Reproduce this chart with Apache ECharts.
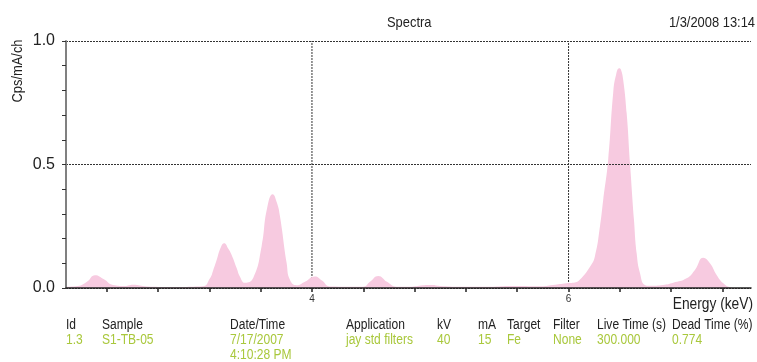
<!DOCTYPE html>
<html>
<head>
<meta charset="utf-8">
<script src="https://cdn.jsdelivr.net/npm/echarts@6/dist/echarts.min.js"></script>
<style>
  html, body { margin: 0; padding: 0; background: #fff; }
  #chart { width: 757px; height: 362px; }
</style>
</head>
<body>
<div id="chart"></div>
<script>
// XRF spectrum: energy (keV) against intensity (Cps/mA/ch)
const energies = [
  2.083, 2.176, 2.246, 2.309, 2.379, 2.449, 2.542, 2.605, 2.714, 2.893,
  3.150, 3.205, 3.231, 3.257, 3.290, 3.316, 3.347, 3.374, 3.413, 3.439,
  3.478, 3.542, 3.608, 3.649, 3.694,
  3.727, 3.751, 3.803, 3.829, 3.881, 3.945, 4.023, 4.078, 4.140, 4.398,
  4.452, 4.517, 4.585, 4.660, 4.764, 4.865, 4.935, 4.998, 5.154, 5.387,
  5.559, 5.777, 5.878, 5.985, 6.050, 6.089, 6.167, 6.206, 6.245, 6.270,
  6.309, 6.348, 6.369, 6.395, 6.408, 6.426, 6.453, 6.479, 6.510, 6.531,
  6.557, 6.595, 6.634, 6.736, 6.816, 6.920, 6.985, 7.050, 7.102, 7.154,
  7.206, 7.258, 7.300, 7.422
];
const intensities = [
  0.005, 0.008, 0.025, 0.052, 0.035, 0.012, 0.008, 0.013, 0.006, 0.004,
  0.007, 0.039, 0.073, 0.113, 0.165, 0.181, 0.160, 0.134, 0.081, 0.046,
  0.021, 0.040, 0.170, 0.320, 0.380,
  0.345, 0.289, 0.100, 0.032, 0.011, 0.025, 0.047, 0.030, 0.006, 0.005,
  0.025, 0.049, 0.025, 0.005, 0.005, 0.011, 0.012, 0.008, 0.005, 0.005,
  0.008, 0.007, 0.012, 0.019, 0.022, 0.034, 0.086, 0.130, 0.250, 0.356,
  0.520, 0.790, 0.860, 0.890, 0.885, 0.842, 0.707, 0.505, 0.275, 0.140,
  0.060, 0.012, 0.009, 0.012, 0.021, 0.039, 0.073, 0.122, 0.100, 0.053,
  0.019, 0.003, 0, 0
];
const energyTicks = [2.4, 2.8, 3.2, 3.6, 4.0, 4.4, 4.8, 5.2, 5.6, 6.0, 6.4, 6.8, 7.2];
const energyLabels = [4, 6];
const energyGridLines = [4, 6];

// Acquisition details shown under the plot
const infoHeaders = ['Id', 'Sample', 'Date/Time', 'Application', 'kV', 'mA', 'Target', 'Filter', 'Live Time (s)', 'Dead Time (%)'];
const infoValues = ['1.3', 'S1-TB-05', '7/17/2007\n4:10:28 PM', 'jay std filters', '40', '15', 'Fe', 'None', '300.000', '0.774'];
const infoColumnX = [66, 102, 230, 346, 437, 478, 507, 553, 597, 672];

const FONT = "'Liberation Sans', Arial, sans-serif";
const NARROW = 0.86; // horizontal squeeze for a condensed look
const PINK = '#f7cae0';
const GREEN = '#a9c83c';
const INK = '#222';

const chart = echarts.init(document.getElementById('chart'), null, { renderer: 'canvas' });

const spectrum = energies.map((e, i) => [e, intensities[i]]);

const gridSeries = energyGridLines.map(e => ({
  type: 'line',
  z: 1,
  silent: true,
  symbol: 'none',
  data: [[e, 0], [e, 1]],
  lineStyle: { color: '#333', width: 1, type: [2, 1] }
}));

// condensed text label placed at (x, y)
function label(text, x, y, size, color, align, extra, vAlign) {
  return Object.assign({
    type: 'text', x: x, y: y, scaleX: NARROW, silent: true,
    style: { text: text, font: size + 'px ' + FONT, fill: color, align: align || 'left', verticalAlign: vAlign || 'middle', lineHeight: 15 }
  }, extra || {});
}

const graphics = [
  label('Spectra', 387, 23, 15, INK),
  label('1/3/2008 13:14', 755, 23, 15, INK, 'right'),
  label('Cps/mA/ch', 18, 71, 15, INK, 'center', { rotation: Math.PI / 2 }),
  label('Energy (keV)', 753, 305, 16, INK, 'right')
];
infoHeaders.forEach((h, i) => {
  graphics.push(label(h, infoColumnX[i], 325, 14, INK));
  graphics.push(label(infoValues[i], infoColumnX[i], 333, 14, GREEN, 'left', null, 'top'));
});

chart.setOption({
  animation: false,
  backgroundColor: '#fff',
  textStyle: { fontFamily: FONT },
  grid: { left: 66, right: 6, top: 41, bottom: 74, containLabel: false },
  xAxis: {
    type: 'value',
    z: 10,
    min: energies[0],
    max: energies[energies.length - 1],
    axisLine: { show: true, onZero: false, lineStyle: { color: INK, width: 1.5 } },
    axisTick: { show: true, length: 4, customValues: energyTicks, lineStyle: { color: INK, width: 1.5 } },
    axisLabel: { show: true, customValues: energyLabels, margin: 6, fontSize: 10, color: '#333', fontFamily: FONT },
    splitLine: { show: false }
  },
  yAxis: {
    type: 'value',
    z: 10,
    min: 0,
    max: 1,
    interval: 0.5,
    axisLine: { show: true, lineStyle: { color: '#808080', width: 2 } },
    axisTick: { show: true, length: 4, lineStyle: { color: '#333', width: 1 } },
    minorTick: { show: true, splitNumber: 5, length: 4, lineStyle: { color: '#333', width: 1 } },
    axisLabel: { margin: 11, fontSize: 16, color: INK, fontFamily: FONT, formatter: v => v.toFixed(1) },
    splitLine: { show: true, lineStyle: { color: '#333', width: 1, type: [2, 1] } }
  },
  series: gridSeries.concat([{
    type: 'line',
    z: 3,
    data: spectrum,
    smooth: 0.5,
    symbol: 'none',
    lineStyle: { width: 0, opacity: 0 },
    areaStyle: { color: PINK, opacity: 1 }
  }]),
  graphic: graphics
});
</script>
</body>
</html>
